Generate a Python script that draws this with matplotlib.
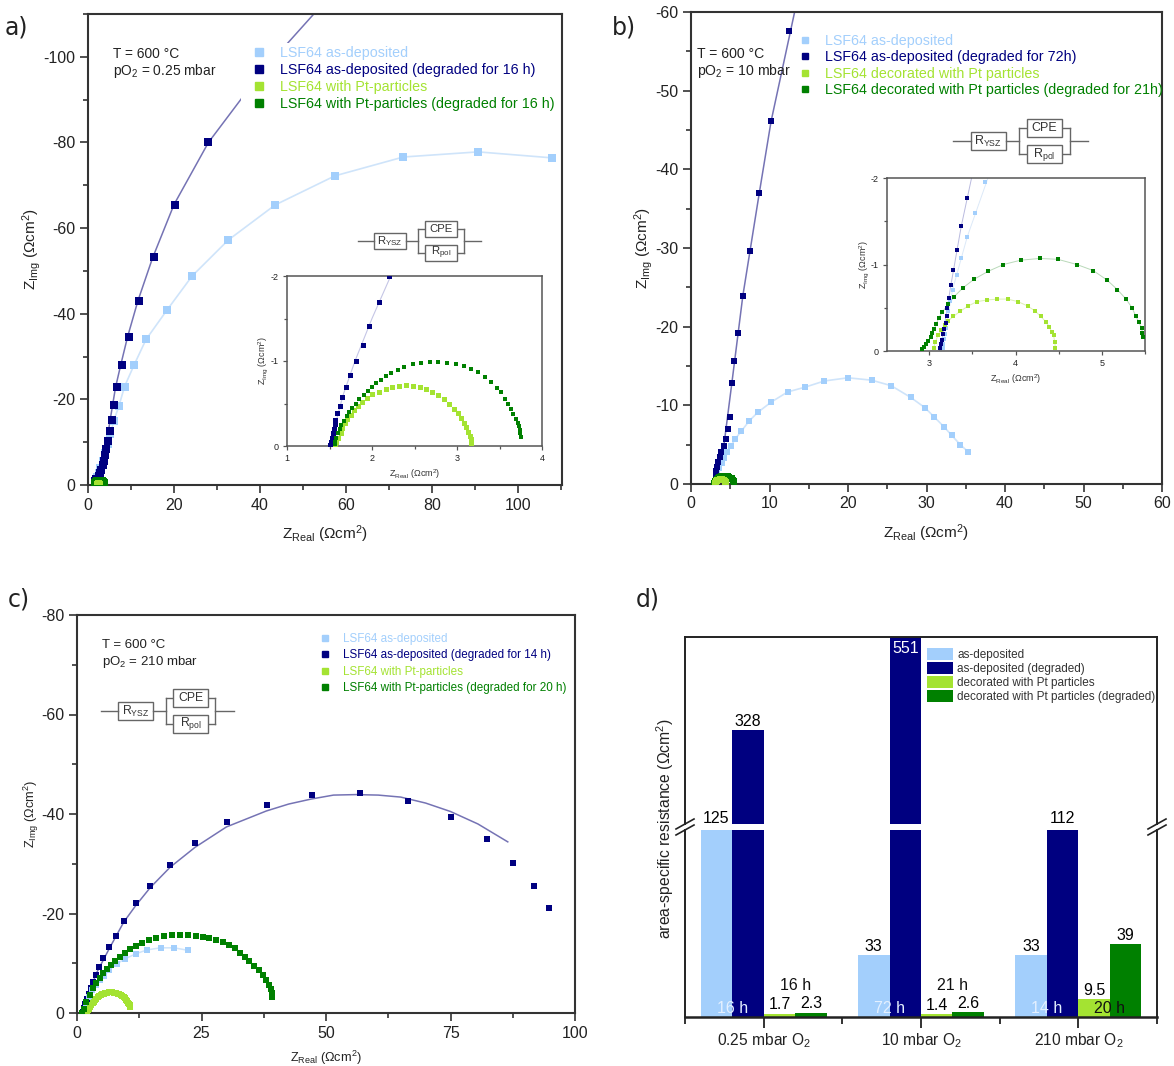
import numpy as np
import matplotlib
matplotlib.use("Agg")
import matplotlib.pyplot as plt
from matplotlib.ticker import MultipleLocator, FixedLocator
from matplotlib.lines import Line2D
from matplotlib.patches import Rectangle

W, H = 1174, 1066
plt.rcParams['font.family'] = ['Liberation Sans', 'DejaVu Sans']
plt.rcParams['mathtext.default'] = 'regular'
plt.rcParams['axes.unicode_minus'] = False

LIGHT = '#A3CFFC'
NAVY = '#000080'
LIME = '#A4E332'
GREEN = '#008000'
NAVY_FIT = '#7573B4'
LIGHT_FIT = '#CFE4FA'
GREEN_FIT = '#B9D9B9'
AXC = '#333333'

# ---- panel a (Z_real, -Z_img)
a_light_x = [107.9, 90.7, 73.3, 57.4, 43.5, 32.6, 24.2, 18.4, 13.5, 10.7, 8.5, 7.2, 6.0, 5.2, 4.6, 4.0, 3.4, 2.9, 2.5, 2.2, 1.9, 1.7, 1.55]
a_light_y = [76.4, 77.8, 76.6, 72.2, 65.4, 57.2, 48.8, 40.9, 34.0, 28.0, 23.0, 18.5, 15.0, 12.0, 9.5, 7.5, 5.5, 4.0, 2.8, 1.9, 1.2, 0.7, 0.3]
a_navy_x = [28.0, 20.3, 15.4, 11.9, 9.5, 8.0, 6.8, 6.0, 5.5, 5.0, 4.6, 4.3, 4.0, 3.7, 3.4, 3.1, 2.8, 2.5, 2.2, 1.97, 1.89, 1.81, 1.74, 1.65, 1.59, 1.55, 1.52]
a_navy_y = [80.0, 65.5, 53.2, 43.0, 34.6, 28.0, 22.8, 18.7, 15.2, 12.5, 10.3, 8.5, 7.0, 5.7, 4.6, 3.6, 2.8, 2.0, 1.4, 1.41, 1.19, 1.0, 0.83, 0.58, 0.39, 0.2, 0.05]
a_navy_fit_x = [52.5, 40.0, 28.0, 20.0, 15.0, 11.6, 9.2, 7.6, 6.4, 5.2, 4.2, 3.2, 2.4, 1.5]
a_navy_fit_y = [110.0, 96.0, 80.0, 65.5, 53.0, 43.0, 34.6, 28.0, 22.8, 15.5, 9.0, 4.0, 2.0, 0.0]

a_in_navy_x = [2.2, 2.08, 1.97, 1.89, 1.81, 1.74, 1.69, 1.65, 1.62, 1.59, 1.57, 1.56, 1.55, 1.54, 1.53, 1.52, 1.51]
a_in_navy_y = [2.0, 1.69, 1.41, 1.19, 1.0, 0.83, 0.69, 0.58, 0.47, 0.39, 0.31, 0.26, 0.2, 0.15, 0.1, 0.05, 0.01]
a_in_fit_x = [2.22, 2.0, 1.8, 1.66, 1.58, 1.5]
a_in_fit_y = [2.0, 1.5, 1.0, 0.6, 0.3, 0.0]
a_green_x = [3.75, 3.745, 3.74, 3.73, 3.72, 3.69, 3.66, 3.64, 3.6, 3.57, 3.52, 3.47, 3.4, 3.33, 3.25, 3.17, 3.08, 2.99, 2.88, 2.78, 2.68, 2.58, 2.48, 2.38, 2.3, 2.22, 2.16, 2.1, 2.05, 2.0, 1.95, 1.9, 1.85, 1.81, 1.77, 1.73, 1.7, 1.67, 1.64, 1.62, 1.6, 1.58, 1.57, 1.56]
a_green_y = [0.11, 0.15, 0.19, 0.23, 0.27, 0.32, 0.38, 0.44, 0.5, 0.55, 0.63, 0.68, 0.75, 0.81, 0.87, 0.91, 0.94, 0.96, 0.98, 0.99, 0.99, 0.98, 0.96, 0.93, 0.9, 0.86, 0.82, 0.78, 0.74, 0.7, 0.65, 0.6, 0.55, 0.5, 0.45, 0.4, 0.35, 0.3, 0.25, 0.2, 0.15, 0.1, 0.05, 0.02]
a_lime_x = [3.16, 3.16, 3.15, 3.13, 3.11, 3.08, 3.05, 3.01, 2.96, 2.91, 2.85, 2.78, 2.71, 2.64, 2.56, 2.48, 2.4, 2.32, 2.24, 2.16, 2.08, 2.0, 1.94, 1.88, 1.83, 1.79, 1.75, 1.71, 1.68, 1.65, 1.63, 1.6, 1.58, 1.57]
a_lime_y = [0.04, 0.08, 0.12, 0.17, 0.22, 0.27, 0.33, 0.39, 0.44, 0.5, 0.55, 0.6, 0.64, 0.67, 0.7, 0.71, 0.72, 0.71, 0.69, 0.67, 0.64, 0.61, 0.57, 0.52, 0.47, 0.42, 0.37, 0.32, 0.27, 0.21, 0.15, 0.1, 0.05, 0.02]

# ---- panel b
b_light_x = [35.3, 34.3, 33.2, 32.2, 31.0, 29.8, 28.0, 25.5, 23.0, 20.0, 17.0, 14.5, 12.3, 10.2, 8.5, 7.4, 6.4, 5.6, 5.1, 4.6, 4.2, 3.95, 3.6, 3.3, 3.2, 3.16]
b_light_y = [4.1, 5.0, 6.2, 7.3, 8.5, 9.7, 11.0, 12.5, 13.2, 13.5, 13.1, 12.3, 11.7, 10.4, 9.1, 8.0, 6.7, 5.7, 4.8, 4.1, 3.3, 2.7, 2.0, 1.4, 0.8, 0.2]
b_navy_x = [12.5, 10.2, 8.7, 7.5, 6.6, 6.0, 5.5, 5.2, 5.0, 4.7, 4.5, 4.2, 3.85, 3.7, 3.45, 3.3, 3.2, 3.15]
b_navy_y = [57.6, 46.1, 37.0, 29.6, 23.9, 19.2, 15.6, 12.8, 8.5, 7.0, 5.7, 4.8, 4.1, 3.4, 2.8, 2.2, 1.6, 1.1]
b_navy_fit_x = [13.2, 10.2, 8.7, 6.6, 5.2, 4.2, 3.1]
b_navy_fit_y = [60.0, 46.1, 37.0, 23.9, 12.8, 5.0, 0.0]

b_in_light_x = [3.65, 3.53, 3.44, 3.37, 3.32, 3.27, 3.24, 3.22, 3.2, 3.19, 3.18, 3.17, 3.16, 3.16]
b_in_light_y = [1.95, 1.6, 1.32, 1.08, 0.88, 0.71, 0.58, 0.46, 0.35, 0.27, 0.2, 0.14, 0.08, 0.03]
b_in_navy_x = [3.44, 3.37, 3.32, 3.28, 3.25, 3.23, 3.21, 3.2, 3.19, 3.17, 3.16, 3.15, 3.135, 3.12]
b_in_navy_y = [1.77, 1.44, 1.17, 0.94, 0.76, 0.61, 0.5, 0.4, 0.32, 0.26, 0.2, 0.13, 0.085, 0.04]
b_in_navy_fit_x = [3.49, 3.37, 3.25, 3.17, 3.12]
b_in_navy_fit_y = [2.0, 1.44, 0.76, 0.26, 0.0]
b_in_light_fit_x = [3.68, 3.44, 3.27, 3.18, 3.14]
b_in_light_fit_y = [2.0, 1.32, 0.71, 0.2, 0.0]
b_green_x = [5.48, 5.47, 5.46, 5.43, 5.39, 5.35, 5.28, 5.18, 5.06, 4.9, 4.71, 4.49, 4.28, 4.06, 3.86, 3.68, 3.52, 3.39, 3.29, 3.22, 3.15, 3.11, 3.08, 3.06, 3.03, 3.02, 2.99, 2.96, 2.94, 2.92]
b_green_y = [0.16, 0.21, 0.27, 0.33, 0.41, 0.5, 0.6, 0.71, 0.82, 0.93, 1.0, 1.06, 1.07, 1.05, 1.0, 0.92, 0.83, 0.73, 0.63, 0.54, 0.45, 0.38, 0.31, 0.26, 0.21, 0.16, 0.12, 0.08, 0.05, 0.02]
b_lime_x = [4.46, 4.455, 4.44, 4.42, 4.39, 4.35, 4.29, 4.23, 4.14, 4.03, 3.91, 3.79, 3.67, 3.55, 3.45, 3.36, 3.28, 3.22, 3.18, 3.14, 3.1, 3.07, 3.05]
b_lime_y = [0.04, 0.1, 0.18, 0.22, 0.28, 0.34, 0.4, 0.46, 0.52, 0.57, 0.6, 0.6, 0.59, 0.57, 0.52, 0.46, 0.4, 0.35, 0.3, 0.24, 0.18, 0.1, 0.04]

# ---- panel c
c_light_x = [22.3, 19.5, 16.8, 14.1, 11.8, 9.7, 8.0, 6.5, 5.5, 4.6, 3.8, 3.1, 2.5, 1.9, 1.4]
c_light_y = [12.6, 13.1, 13.1, 12.7, 11.9, 10.9, 9.9, 8.7, 7.5, 6.6, 5.6, 4.6, 3.3, 2.1, 0.7]
c_navy_x = [94.8, 91.8, 87.5, 82.3, 75.0, 66.5, 56.8, 47.2, 38.2, 30.1, 23.7, 18.7, 14.7, 11.8, 9.4, 7.8, 6.4, 5.2, 4.4, 3.8, 3.2, 2.8, 2.4, 2.0, 1.6, 1.4, 1.2]
c_navy_y = [21.1, 25.5, 30.2, 35.0, 39.4, 42.6, 44.2, 43.8, 41.8, 38.4, 34.2, 29.7, 25.5, 22.1, 18.5, 15.5, 13.3, 11.0, 9.3, 7.6, 6.2, 5.0, 3.8, 2.8, 1.8, 1.0, 0.2]
c_navy_fit_x = [86.5, 80.5, 75.0, 70.0, 65.0, 60.5, 56.0, 51.5, 47.0, 42.5, 38.0, 30.0, 23.7, 18.7, 14.7, 11.8, 9.4, 6.4, 4.0, 2.4, 1.2]
c_navy_fit_y = [34.4, 38.0, 40.5, 42.2, 43.4, 43.8, 43.9, 43.8, 43.0, 42.0, 40.6, 37.4, 33.3, 29.3, 25.2, 21.6, 18.3, 12.8, 8.2, 4.2, 0.0]
c_green_x = [39.2, 39.1, 38.9, 38.5, 37.9, 37.3, 36.5, 35.6, 34.6, 33.7, 32.7, 31.7, 30.6, 29.3, 27.9, 26.6, 25.3, 23.8, 22.3, 20.7, 19.1, 17.5, 15.9, 14.5, 13.1, 11.9, 10.6, 9.6, 8.6, 7.7, 6.8, 6.1, 5.3, 4.6, 3.9, 3.3, 2.6, 1.9, 1.4, 1.1]
c_green_y = [3.3, 4.0, 4.8, 5.6, 6.6, 7.7, 8.7, 9.5, 10.5, 11.3, 12.1, 13.0, 13.6, 14.2, 14.7, 15.0, 15.2, 15.5, 15.6, 15.6, 15.6, 15.4, 15.1, 14.7, 14.0, 13.5, 12.9, 12.1, 11.3, 10.5, 9.7, 8.9, 8.0, 7.0, 6.0, 5.0, 3.6, 2.3, 0.9, 0.1]
c_lime_x = [10.7, 10.6, 10.5, 10.3, 10.0, 9.8, 9.6, 9.35, 9.1, 8.8, 8.5, 8.15, 7.8, 7.45, 7.1, 6.75, 6.4, 6.05, 5.7, 5.4, 5.1, 4.8, 4.5, 4.2, 3.9, 3.65, 3.4, 3.15, 2.9, 2.7, 2.5, 2.3, 2.1]
c_lime_y = [1.3, 1.55, 1.8, 2.1, 2.4, 2.7, 3.0, 3.2, 3.4, 3.6, 3.8, 3.9, 4.0, 4.1, 4.2, 4.2, 4.2, 4.1, 4.0, 3.9, 3.8, 3.6, 3.4, 3.15, 2.9, 2.6, 2.3, 2.0, 1.7, 1.3, 0.9, 0.6, 0.3]

# ---- panel d
d_groups = ['0.25 mbar O$_{2}$', '10 mbar O$_{2}$', '210 mbar O$_{2}$']
d_series_names = ['as-deposited', 'as-deposited (degraded)', 'decorated with Pt particles', 'decorated with Pt particles (degraded)']
d_as_dep = [125, 33, 33]
d_as_dep_deg = [328, 551, 112]
d_pt = [1.7, 1.4, 9.5]
d_pt_deg = [2.3, 2.6, 39]
d_hours_as = ['16 h', '72 h', '14 h']
d_hours_pt = ['16 h', '21 h', '20 h']

fig = plt.figure(figsize=(W / 100, H / 100), dpi=100, facecolor='white')


def axpx(l, t, r, b, **kw):
    return fig.add_axes([l / W, 1 - b / H, (r - l) / W, (b - t) / H], **kw)


def style(ax, lw=1.5, size=11.5, major=6, minor=3.5, color=AXC):
    for s in ax.spines.values():
        s.set_linewidth(lw)
        s.set_color(color)
    ax.tick_params(which='major', length=major, width=lw * 0.8, labelsize=size, color=color, labelcolor='#222222', pad=3)
    ax.tick_params(which='minor', length=minor, width=lw * 0.8, color=color)


def neg(v):
    return -np.asarray(v, dtype=float)


def scat(ax, x, y, c, ms, zorder=3):
    ax.plot(x, neg(y), ls='none', marker='s', ms=ms, mfc=c, mec=c, mew=0, zorder=zorder)


def fit(ax, x, y, c, lw=1.2):
    ax.plot(x, neg(y), color=c, lw=lw, zorder=2)


def legend(ax, names, anchor, size, spacing, ms=6, pad=1.2):
    handles = [Line2D([], [], ls='none', marker='s', ms=ms, color=c) for c in (LIGHT, NAVY, LIME, GREEN)]
    ax.legend(handles, names, loc='upper left', bbox_to_anchor=(anchor[0] / W, 1 - anchor[1] / H),
              bbox_transform=fig.transFigure, frameon=False, fontsize=size, labelspacing=spacing,
              handlelength=0.7, handletextpad=pad, borderpad=0, borderaxespad=0, labelcolor='linecolor')


# ===== a
axa = axpx(88, 14, 562, 485)
style(axa)
axa.set_xlim(0, 110.2)
axa.set_ylim(0, -110)
axa.xaxis.set_major_locator(MultipleLocator(20))
axa.xaxis.set_minor_locator(MultipleLocator(10))
axa.yaxis.set_major_locator(MultipleLocator(20))
axa.yaxis.set_minor_locator(MultipleLocator(10))
fit(axa, a_light_x, a_light_y, LIGHT_FIT, 1.2)
fit(axa, a_navy_fit_x, a_navy_fit_y, NAVY_FIT, 1.1)
# white backing of the legend block, which interrupts the fit line in the reference
axa.add_patch(Rectangle((241 / W, 1 - 112 / H), 320 / W, 69 / H, transform=fig.transFigure, fc='white', ec='none', zorder=2.5))
scat(axa, a_light_x, a_light_y, LIGHT, 6)
scat(axa, a_navy_x, a_navy_y, NAVY, 6)
scat(axa, a_lime_x, a_lime_y, LIME, 4)
scat(axa, a_green_x, a_green_y, GREEN, 5.5)
scat(axa, a_lime_x[8:26], a_lime_y[8:26], LIME, 2.5)
axa.set_xlabel('Z$_{Real}$ ($\\Omega$cm$^{2}$)', fontsize=11.1, color='#222222', labelpad=8)
axa.set_ylabel('Z$_{Img}$ ($\\Omega$cm$^{2}$)', fontsize=11.1, color='#222222', labelpad=0)
legend(axa, ['LSF64 as-deposited', 'LSF64 as-deposited (degraded for 16 h)', 'LSF64 with Pt-particles', 'LSF64 with Pt-particles (degraded for 16 h)'],
       (254, 46), 10.27, 0.21, pad=1.1)

ina = axpx(287, 276, 542, 446)
style(ina, lw=1.1, size=6.5, major=3, minor=2, color='#555555')
ina.set_xlim(1, 4)
ina.set_ylim(0, -2)
ina.xaxis.set_major_locator(MultipleLocator(1))
ina.xaxis.set_minor_locator(MultipleLocator(0.5))
ina.yaxis.set_major_locator(MultipleLocator(1))
ina.yaxis.set_minor_locator(MultipleLocator(0.5))
fit(ina, a_in_fit_x, a_in_fit_y, '#C5C6E6', 0.8)
scat(ina, a_in_navy_x, a_in_navy_y, NAVY, 3.6)
scat(ina, a_lime_x, a_lime_y, LIME, 3.6)
scat(ina, a_green_x, a_green_y, GREEN, 3.5)
ina.set_xlabel('Z$_{Real}$ ($\\Omega$cm$^{2}$)', fontsize=6.5, color='#333333', labelpad=3)
ina.set_ylabel('Z$_{Img}$ ($\\Omega$cm$^{2}$)', fontsize=6.5, color='#333333', labelpad=0.5)

# ===== b
axb = axpx(691, 12, 1162, 484)
style(axb)
axb.set_xlim(0, 60)
axb.set_ylim(0, -60)
axb.xaxis.set_major_locator(MultipleLocator(10))
axb.xaxis.set_minor_locator(MultipleLocator(5))
axb.yaxis.set_major_locator(MultipleLocator(10))
axb.yaxis.set_minor_locator(MultipleLocator(5))
fit(axb, b_light_x, b_light_y, LIGHT_FIT, 1.2)
fit(axb, b_navy_fit_x, b_navy_fit_y, NAVY_FIT, 1.1)
scat(axb, b_light_x, b_light_y, LIGHT, 4.6)
scat(axb, b_navy_x, b_navy_y, NAVY, 4.6)
scat(axb, b_green_x, b_green_y, GREEN, 4.5)
scat(axb, b_lime_x, b_lime_y, LIME, 4)
axb.set_xlabel('Z$_{Real}$ ($\\Omega$cm$^{2}$)', fontsize=11.1, color='#222222', labelpad=8)
axb.set_ylabel('Z$_{Img}$ ($\\Omega$cm$^{2}$)', fontsize=11.1, color='#222222', labelpad=0)
legend(axb, ['LSF64 as-deposited', 'LSF64 as-deposited (degraded for 72h)', 'LSF64 decorated with Pt particles', 'LSF64 decorated with Pt particles (degraded for 21h)'],
       (800, 34), 10.3, 0.17, ms=4.5, pad=1.05)

inb = axpx(887, 178, 1145, 351)
style(inb, lw=1.1, size=6.5, major=3, minor=2, color='#555555')
inb.set_xlim(2.51, 5.5)
inb.set_ylim(0, -2)
inb.xaxis.set_major_locator(MultipleLocator(1))
inb.xaxis.set_minor_locator(MultipleLocator(0.5))
inb.yaxis.set_major_locator(MultipleLocator(1))
inb.yaxis.set_minor_locator(MultipleLocator(0.5))
fit(inb, b_in_light_fit_x, b_in_light_fit_y, '#DCE9F8', 0.7)
fit(inb, b_in_navy_fit_x, b_in_navy_fit_y, '#B9BADF', 0.7)
fit(inb, b_green_x, b_green_y, GREEN_FIT, 0.7)
fit(inb, b_lime_x, b_lime_y, '#DDF0B5', 0.7)
scat(inb, b_in_light_x, b_in_light_y, LIGHT, 2.6)
scat(inb, b_lime_x, b_lime_y, LIME, 2.8)
scat(inb, b_green_x, b_green_y, GREEN, 2.8)
scat(inb, b_in_navy_x, b_in_navy_y, NAVY, 2.8)
inb.set_xlabel('Z$_{Real}$ ($\\Omega$cm$^{2}$)', fontsize=6.5, color='#333333', labelpad=3)
inb.set_ylabel('Z$_{Img}$ ($\\Omega$cm$^{2}$)', fontsize=6.5, color='#333333', labelpad=0)

# ===== c
axc = axpx(77, 615, 575, 1013)
style(axc)
axc.set_xlim(0, 100)
axc.set_ylim(0, -80)
axc.xaxis.set_major_locator(MultipleLocator(25))
axc.xaxis.set_minor_locator(MultipleLocator(12.5))
axc.yaxis.set_major_locator(MultipleLocator(20))
axc.yaxis.set_minor_locator(MultipleLocator(10))
fit(axc, c_navy_fit_x, c_navy_fit_y, NAVY_FIT, 1.1)
fit(axc, c_light_x, c_light_y, LIGHT_FIT, 1.1)
scat(axc, c_navy_x, c_navy_y, NAVY, 4)
scat(axc, c_light_x, c_light_y, LIGHT, 3.9)
scat(axc, c_lime_x, c_lime_y, LIME, 4.4)
scat(axc, c_green_x, c_green_y, GREEN, 4)
axc.set_xlabel('Z$_{Real}$ ($\\Omega$cm$^{2}$)', fontsize=9.2, color='#222222', labelpad=6)
axc.set_ylabel('Z$_{Img}$ ($\\Omega$cm$^{2}$)', fontsize=9.2, color='#222222', labelpad=0.5)
legend(axc, ['LSF64 as-deposited', 'LSF64 as-deposited (degraded for 14 h)', 'LSF64 with Pt-particles', 'LSF64 with Pt-particles (degraded for 20 h)'],
       (321, 633), 8.4, 0.37, ms=3.8, pad=1.2)

# ===== d
BREAK_TOP, BREAK_BOT = 824, 830
D_L, D_R = 685, 1157
upper = axpx(D_L, 637, D_R, BREAK_TOP)
lower = axpx(D_L, BREAK_BOT, D_R, 1017)
pos = np.arange(1, 4)
bw = 0.2
offs = [-1.5, -0.5, 0.5, 1.5]
series = [d_as_dep, d_as_dep_deg, d_pt, d_pt_deg]
cols = [LIGHT, NAVY, LIME, GREEN]
for ax in (upper, lower):
    for vals, off, c in zip(series, offs, cols):
        ax.bar(pos + off * bw, vals, bw, color=c, linewidth=0)
    ax.set_xlim(0.5, 3.5)
lower.set_ylim(0, 100)
upper.set_ylim(125, 529)
upper.set_yticks([])
lower.set_yticks([])
upper.set_xticks([])
upper.spines['bottom'].set_visible(False)
lower.spines['top'].set_visible(False)
for ax in (upper, lower):
    for s in ax.spines.values():
        s.set_linewidth(1.4)
        s.set_color('#222222')
lower.set_xticks(pos)
lower.set_xticklabels(d_groups, fontsize=11.2, color='#222222')
lower.xaxis.set_minor_locator(FixedLocator([0.5, 1.5, 2.5, 3.5]))
lower.tick_params(axis='x', which='major', length=8, width=1.3, color='#222222', pad=2, direction='out')
lower.tick_params(axis='x', which='minor', length=5, width=1.3, color='#222222')
lower.spines['bottom'].set_linewidth(1.8)
upper.patch.set_alpha(0)

handles = [Rectangle((0, 0), 1, 1, color=c, lw=0) for c in cols]
upper.legend(handles, d_series_names, loc='upper left', bbox_to_anchor=(927 / W, 1 - 648 / H), bbox_transform=fig.transFigure,
             frameon=False, fontsize=8.5, labelspacing=0.09, handlelength=2.2, handleheight=1.2, handletextpad=0.35,
             borderpad=0, borderaxespad=0, labelcolor='#333333')


def lbl(ax, x, y, s, c='black', size=11.5, dy=1):
    ax.annotate(s, (x, y), xytext=(0, dy), textcoords='offset points', ha='center', va='bottom', fontsize=size, color=c, annotation_clip=False)


for vals, k in [(d_as_dep, 0), (d_pt, 2), (d_pt_deg, 3)]:
    for i, v in enumerate(vals):
        lbl(lower, pos[i] + offs[k] * bw, min(v, 100), str(v), dy=3 if v > 100 else 1)
lbl(upper, pos[0] + offs[1] * bw, d_as_dep_deg[0], str(d_as_dep_deg[0]))
upper.annotate(str(d_as_dep_deg[1]), (pos[1] + offs[1] * bw, 529), xytext=(0, -3), textcoords='offset points',
               ha='center', va='top', fontsize=11.5, color='white')
lbl(lower, pos[2] + offs[1] * bw, 100, str(d_as_dep_deg[2]), dy=3)

# hour annotations, at the boundaries of each group's bar pairs
for i, t in enumerate(d_hours_as):
    lower.text(pos[i] - bw, 4.8, t, fontsize=11.5, color='#E4F0FF', ha='center', va='center')
for i, t in enumerate(d_hours_pt):
    lower.text(pos[i] + bw, 4.8 if i == 2 else 16.8, t, fontsize=11.5, color='#111111', ha='center', va='center', zorder=5)

# ===== overlay in pixel coordinates (letters, annotations, circuits, break marks)
ov = fig.add_axes([0, 0, 1, 1], zorder=20)
ov.set_xlim(0, W)
ov.set_ylim(H, 0)
ov.axis('off')
ov.patch.set_alpha(0)

for s, x, y in [('a)', 5, 28), ('b)', 612, 27), ('c)', 8, 600), ('d)', 636, 600)]:
    ov.text(x, y, s, fontsize=17, family='DejaVu Sans', color='#222222', va='center', ha='left')

for x, y1, y2, t2, fs in [(113, 54, 71, '0.25', 9.95), (697, 54, 71, '10', 10.1), (102, 645, 662, '210', 9.5)]:
    ov.text(x, y1, 'T = 600 °C', fontsize=fs, color='#222222', va='center')
    ov.text(x, y2, 'pO$_{2}$ = %s mbar' % t2, fontsize=fs, color='#222222', va='center')


def circuit(x0, yc, s):
    c = '#666666'
    lw = 1.0
    P = lambda dx: x0 + dx * s
    w = 32 * s
    h = 16 * s
    ov.plot([P(0), P(16)], [yc, yc], color=c, lw=lw)
    ov.plot([P(48), P(60)], [yc, yc], color=c, lw=lw)
    ov.plot([P(106), P(123)], [yc, yc], color=c, lw=lw)
    ov.add_patch(Rectangle((P(16), yc - h / 2), w, h, fc='white', ec=c, lw=lw))
    ov.text(P(32), yc, 'R$_{YSZ}$', fontsize=8.2 * s, ha='center', va='center', color='#333333')
    dy = 12 * s
    ov.plot([P(60), P(60)], [yc - dy, yc + dy], color=c, lw=lw)
    ov.plot([P(106), P(106)], [yc - dy, yc + dy], color=c, lw=lw)
    for yy, t in [(yc - dy, 'CPE'), (yc + dy, 'R$_{pol}$')]:
        ov.plot([P(60), P(106)], [yy, yy], color=c, lw=lw)
        ov.add_patch(Rectangle((P(67), yy - h / 2), w, h, fc='white', ec=c, lw=lw, zorder=3))
        ov.text(P(83), yy, t, fontsize=8.2 * s, ha='center', va='center', color='#333333', zorder=4)


circuit(358, 241, 1.0)
circuit(953, 141, 1.1)
circuit(101, 711, 1.08)

# axis-break slashes
for x in (D_L, D_R):
    for y in (824, 830):
        ov.plot([x - 9, x + 9], [y + 5, y - 5], color='#222222', lw=1.2)

ov.text(665, 829, 'area-specific resistance ($\\Omega$cm$^{2}$)', rotation=90, fontsize=11.3, color='#222222', ha='center', va='center')

fig.savefig('out.png', dpi=100)
